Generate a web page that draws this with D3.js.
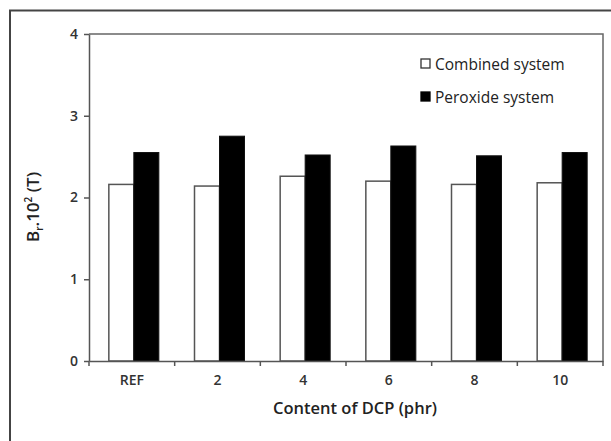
<!DOCTYPE html>
<html><head><meta charset="utf-8">
<script src="https://cdn.jsdelivr.net/npm/d3@7/dist/d3.min.js"></script>
<style>body{margin:0;background:#fff}svg{display:block}</style>
</head><body>
<script>
const categories = ["REF","2","4","6","8","10"];
const combined = [2.16, 2.14, 2.26, 2.20, 2.16, 2.18];
const peroxide = [2.55, 2.75, 2.52, 2.63, 2.51, 2.55];
const seriesNames = ["Combined system","Peroxide system"];
const yTicks = [0,1,2,3,4];

const W=611,H=441;
const svg=d3.select("body").append("svg").attr("width",W).attr("height",H);
const font="'Open Sans', 'DejaVu Sans', sans-serif";
const L=89,R=603,T=34,B=361;
const x=d3.scaleBand().domain(categories).range([L,R]).paddingInner(0).paddingOuter(0);
const y=d3.scaleLinear().domain([0,4]).range([B,T]);
const pairW=50, bw=25;

// outer frame
svg.append("path").attr("d",`M10,${H} L10,10.5 L${W},10.5`).attr("fill","none").attr("stroke","#444").attr("stroke-width",2);

// plot box (top and right)
svg.append("path").attr("d",`M${L},${T} L${R},${T} L${R},${B}`).attr("fill","none").attr("stroke","#666").attr("stroke-width",1.5);

// bars
const data=categories.map((c,i)=>({c,a:combined[i],b:peroxide[i]}));
const g=svg.append("g");
data.forEach(d=>{
  const x0=x(d.c)+x.bandwidth()/2-pairW/2+2;
  g.append("rect").attr("x",x0).attr("y",y(d.a)).attr("width",bw).attr("height",B-y(d.a))
    .attr("fill","#fff").attr("stroke","#555").attr("stroke-width",1.5);
  g.append("rect").attr("x",x0+bw).attr("y",y(d.b)).attr("width",bw).attr("height",B-y(d.b))
    .attr("fill","#000").attr("stroke","#111").attr("stroke-width",1);
});

// y axis
const ya=svg.append("g").attr("transform",`translate(${L},0)`)
  .call(d3.axisLeft(y).tickValues(yTicks).tickFormat(d3.format("d")).tickSize(5).tickSizeOuter(0));
ya.select(".domain").attr("stroke","#555").attr("stroke-width",1.5);
ya.selectAll(".tick line").attr("stroke","#555").attr("stroke-width",1.5);
ya.selectAll(".tick text").attr("font-family",font).attr("font-size",14).attr("fill","#333").attr("x",-11).attr("font-weight",600);

// x axis
const xa=svg.append("g").attr("transform",`translate(0,${B})`)
  .call(d3.axisBottom(x).tickSize(0).tickPadding(14));
xa.select(".domain").attr("stroke","#555").attr("stroke-width",1.5);
xa.selectAll(".tick text").attr("font-family",font).attr("font-size",14).attr("fill","#333").attr("font-weight",600);
const bounds=categories.map(c=>x(c)).concat([R]);
xa.selectAll(".bt").data(bounds).enter().append("line")
  .attr("x1",d=>d).attr("x2",d=>d).attr("y1",0).attr("y2",5).attr("stroke","#555").attr("stroke-width",1.5);

// axis titles
svg.append("text").attr("x",355).attr("y",414).attr("text-anchor","middle")
  .attr("font-family",font).attr("font-size",16.5).attr("font-weight",600).attr("fill","#222")
  .text("Content of DCP (phr)");
const yt=svg.append("text").attr("transform","translate(39,207) rotate(-90)").attr("text-anchor","middle")
  .attr("font-family",font).attr("font-size",17).attr("font-weight",600).attr("fill","#222");
yt.append("tspan").text("B");
yt.append("tspan").attr("font-size",10).attr("dy",4).text("r");
yt.append("tspan").attr("dy",-4).text(".10");
yt.append("tspan").attr("font-size",10).attr("dy",-7).text("2");
yt.append("tspan").attr("dy",7).text(" (T)");

// legend
const lg=svg.append("g");
seriesNames.forEach((n,i)=>{
  const yy=64+i*33;
  lg.append("rect").attr("x",421).attr("y",yy-5).attr("width",9).attr("height",9)
    .attr("fill",i===0?"#fff":"#000").attr("stroke",i===0?"#333":"#000").attr("stroke-width",1.3);
  lg.append("text").attr("x",435).attr("y",yy+5.5).attr("font-family",font).attr("font-size",15.5)
    .attr("fill","#222").text(n);
});
</script>
</body></html>
